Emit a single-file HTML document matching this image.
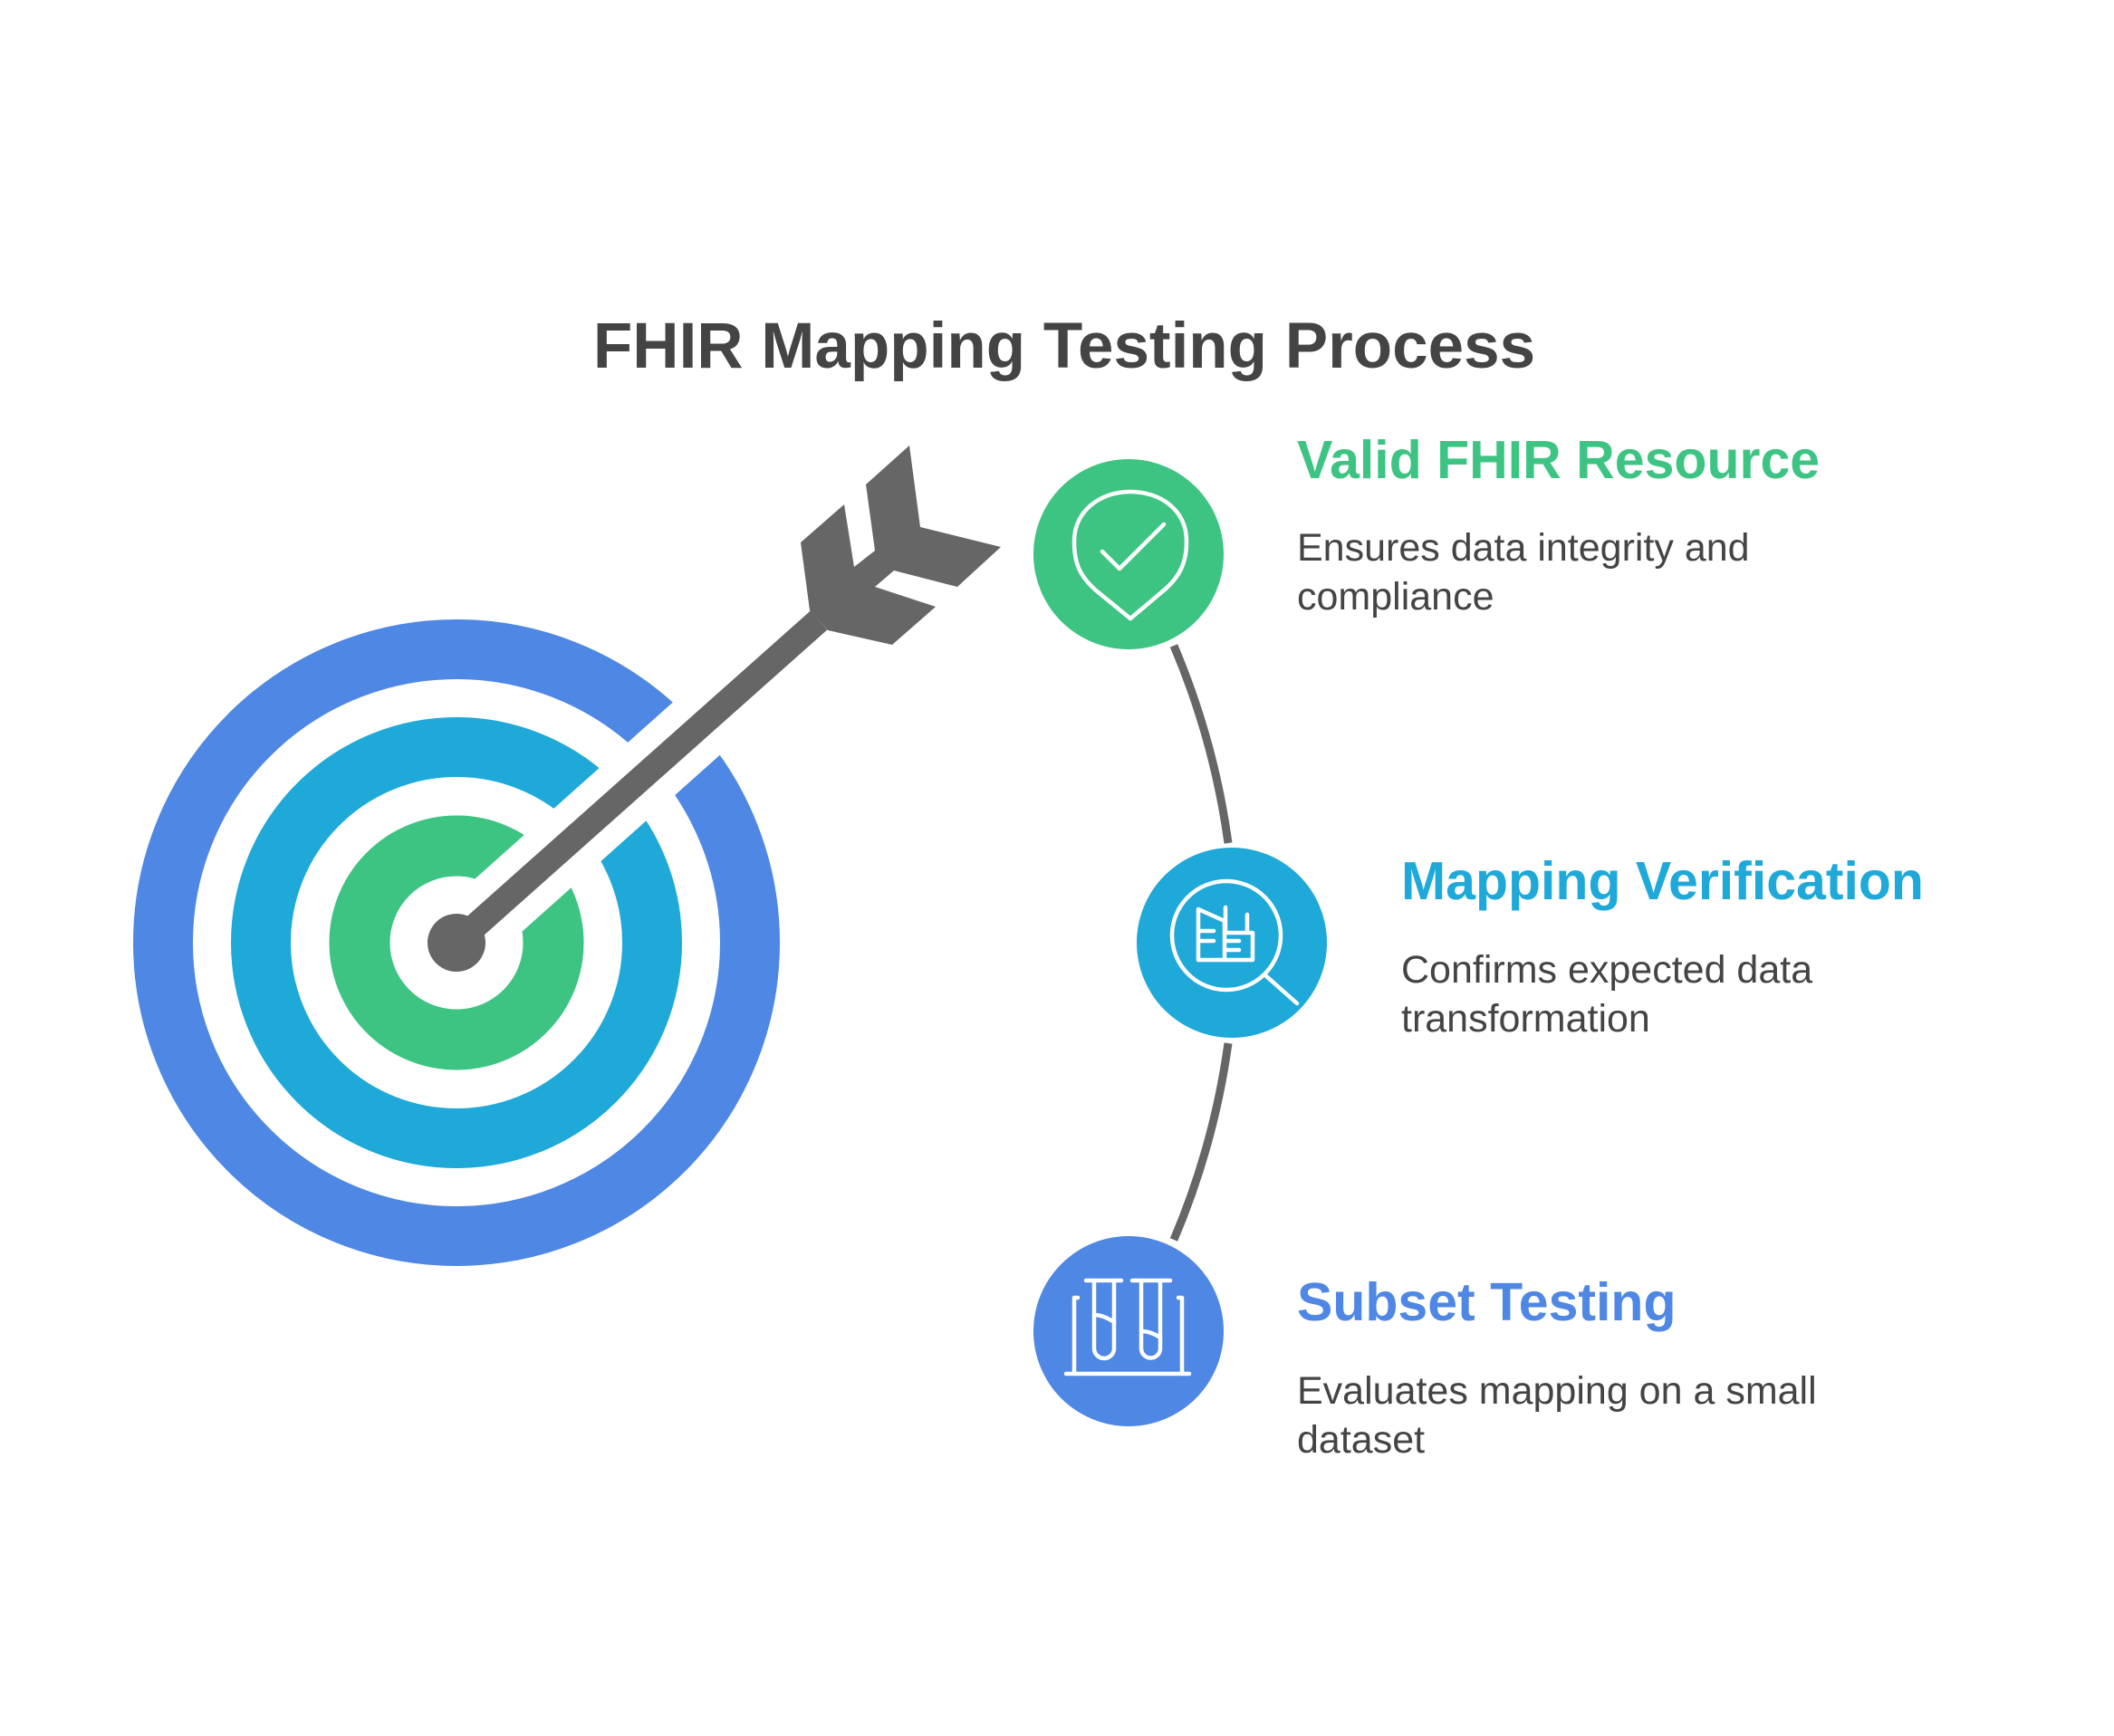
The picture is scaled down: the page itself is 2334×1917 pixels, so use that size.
<!DOCTYPE html>
<html><head><meta charset="utf-8"><style>
html,body{margin:0;padding:0;background:#fff;}
svg{display:block;}
text{font-family:"Liberation Sans",sans-serif;}
</style></head><body>
<svg width="2334" height="1917" viewBox="0 0 2334 1917" xmlns="http://www.w3.org/2000/svg">
<rect width="2334" height="1917" fill="#fff"/>
<text x="1175" y="406" font-size="71" font-weight="bold" fill="#444" text-anchor="middle">FHIR Mapping Testing Process</text>

<!-- target -->
<circle cx="504" cy="1041" r="324" fill="none" stroke="#4e87e4" stroke-width="66"/>
<circle cx="504" cy="1041" r="216" fill="none" stroke="#1fa9d8" stroke-width="66"/>
<circle cx="504" cy="1041" r="107" fill="none" stroke="#3dc482" stroke-width="67"/>
<line x1="504" y1="1041" x2="960" y2="634" stroke="#fff" stroke-width="78"/>
<circle cx="504" cy="1041" r="32" fill="#666"/>
<line x1="504" y1="1041" x2="904" y2="685" stroke="#666" stroke-width="28"/>
<polygon points="884,599 932,557 943,626 966,608 956,535 1004,492 1016,582 1105,604 1057,648 987,630 966,648 1033,670 985,712 914,696 894,674" fill="#666"/>

<!-- connectors -->
<path d="M1296,713 A856,856 0 0 1 1356,931" fill="none" stroke="#666" stroke-width="9"/>
<path d="M1356,1152 A856,856 0 0 1 1296,1369" fill="none" stroke="#666" stroke-width="9"/>

<!-- circles -->
<circle cx="1246" cy="612" r="105" fill="#3dc482"/>
<circle cx="1360" cy="1041" r="105" fill="#1fa9d8"/>
<circle cx="1246" cy="1470" r="105" fill="#4e87e4"/>

<!-- check icon -->
<g fill="none" stroke="#fff" stroke-width="4.5" stroke-linecap="round" stroke-linejoin="round">
<path d="M1248,683 L1210,652 C1192,636 1186,622 1186,598 C1186,563 1216,543 1248,543 C1280,543 1310,562 1310,598 C1310,622 1302,637 1286,651 Z"/>
<path d="M1217,609 L1236,628 L1285,579"/>
</g>
<!-- magnifier icon -->
<g fill="none" stroke="#fff" stroke-width="4.5" stroke-linecap="round" stroke-linejoin="round">
<circle cx="1354" cy="1033" r="60"/>
<line x1="1397" y1="1077" x2="1432" y2="1108"/>
<path d="M1323,1060 V1004 L1352,1017 V1060 Z"/>
<path d="M1352,1060 H1383 V1030 H1352"/>
<line x1="1353" y1="1002" x2="1353" y2="1030"/>
<line x1="1377" y1="1010" x2="1377" y2="1030"/>
<line x1="1323" y1="1028" x2="1340" y2="1028"/>
<line x1="1323" y1="1039" x2="1340" y2="1039"/>
<line x1="1352" y1="1039" x2="1368" y2="1039"/>
<line x1="1352" y1="1049" x2="1368" y2="1049"/>
</g>
<!-- tubes icon -->
<g fill="none" stroke="#fff" stroke-width="4.5" stroke-linecap="round" stroke-linejoin="round">
<line x1="1177" y1="1517" x2="1313" y2="1517"/>
<path d="M1190,1433 H1186 V1517"/>
<path d="M1301,1433 H1305 V1517"/>
<line x1="1199" y1="1414" x2="1238" y2="1414"/>
<line x1="1250" y1="1414" x2="1292" y2="1414"/>
<path d="M1208,1414 V1489 A11,11 0 0 0 1230,1489 V1414"/>
<path d="M1260,1414 V1489 A10.5,10.5 0 0 0 1281,1489 V1414"/>
<path d="M1208,1452 Q1218,1452 1230,1460"/>
<path d="M1260,1470 Q1270,1470 1281,1477"/>
</g>

<!-- labels -->
<text x="1432" y="528" font-size="59" font-weight="bold" fill="#3dc482">Valid FHIR Resource</text>
<text x="1432" y="619" font-size="43" fill="#444">Ensures data integrity and</text>
<text x="1432" y="673" font-size="43" fill="#444">compliance</text>

<text x="1547" y="993" font-size="59" font-weight="bold" fill="#1fa9d8">Mapping Verification</text>
<text x="1547" y="1085" font-size="43" fill="#444">Confirms expected data</text>
<text x="1547" y="1139" font-size="43" fill="#444">transformation</text>

<text x="1432" y="1458" font-size="59" font-weight="bold" fill="#4e87e4">Subset Testing</text>
<text x="1432" y="1550" font-size="43" fill="#444">Evaluates mapping on a small</text>
<text x="1432" y="1604" font-size="43" fill="#444">dataset</text>
</svg>
</body></html>
